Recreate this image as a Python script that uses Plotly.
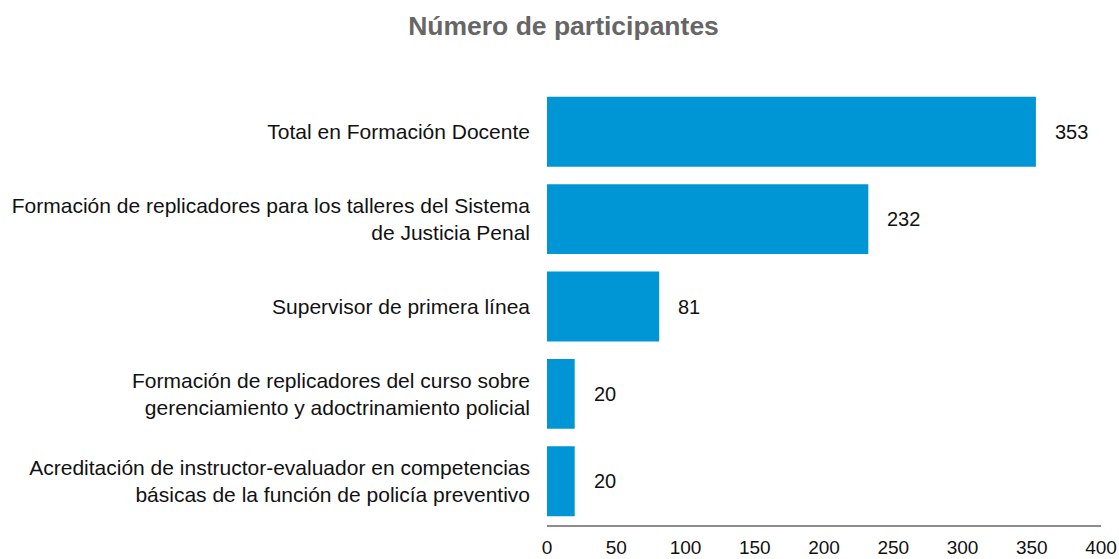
import plotly.graph_objects as go

categories = [
    "Total en Formación Docente",
    "Formación de replicadores para los talleres del Sistema<br>de Justicia Penal",
    "Supervisor de primera línea",
    "Formación de replicadores del curso sobre<br>gerenciamiento y adoctrinamiento policial",
    "Acreditación de instructor-evaluador en competencias<br>básicas de la función de policía preventivo",
]
values = [353, 232, 81, 20, 20]
tick_values = [0, 50, 100, 150, 200, 250, 300, 350, 400]

FONT = "Liberation Sans, Arial, Helvetica, sans-serif"
BAR_COLOR = "#0096D6"

W, H = 1119, 559

fig = go.Figure(
    go.Bar(
        x=values,
        y=categories,
        orientation="h",
        marker=dict(color=BAR_COLOR, line=dict(width=0)),
        hoverinfo="skip",
    )
)

for v, c in zip(values, categories):
    fig.add_annotation(
        x=v, y=c, xref="x", yref="y", text=str(v), showarrow=False,
        xanchor="left", xshift=17, font=dict(family=FONT, size=20, color="#111111"),
    )

fig.update_layout(
    width=W,
    height=H,
    paper_bgcolor="white",
    plot_bgcolor="white",
    margin=dict(l=547, r=18, t=88, b=34, autoexpand=False),
    bargap=0.2,
    showlegend=False,
    font=dict(family=FONT, size=20, color="#111111"),
    title=dict(
        text="<b>Número de participantes</b>",
        x=563.5 / W, xref="container", xanchor="center",
        y=1 - 26 / H, yref="container", yanchor="middle",
        font=dict(family=FONT, size=26.5, color="#666666"),
    ),
    xaxis=dict(
        range=[0, 400],
        tickvals=tick_values,
        ticktext=[str(t) for t in tick_values],
        showgrid=False,
        zeroline=False,
        showline=True,
        linecolor="#8c8c8c",
        linewidth=2,
        ticks="",
        ticklabelstandoff=4,
        tickfont=dict(family=FONT, size=19, color="#111111"),
        fixedrange=True,
        automargin=False,
    ),
    yaxis=dict(
        autorange="reversed",
        showgrid=False,
        zeroline=False,
        showline=False,
        ticks="",
        ticklabelstandoff=16,
        tickfont=dict(family=FONT, size=21, color="#111111"),
        fixedrange=True,
        automargin=False,
    ),
)

fig.write_html(
    "out.html",
    config={"displayModeBar": False, "staticPlot": True},
    post_script="document.body.style.margin='0';document.body.style.overflow='hidden';",
)
